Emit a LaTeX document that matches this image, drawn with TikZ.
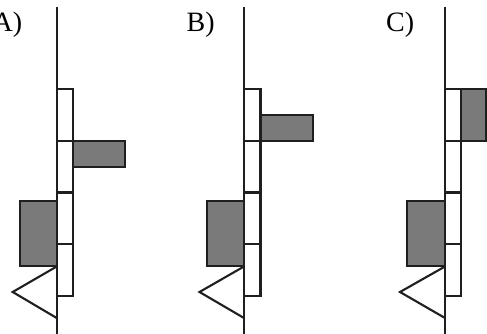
\documentclass[tikz,border=0pt]{standalone}
\usepackage{fontspec}
\setmainfont{Liberation Serif}
\begin{document}
\begin{tikzpicture}[x=1pt,y=-1pt,
  ln/.style={draw=black!88, line width=2.1pt},
  cell/.style={draw=black!88, line width=2.1pt, fill=white},
  gbox/.style={draw=black!88, line width=2.1pt, fill=black!52},
  tri/.style={draw=black!88, line width=2.1pt, line join=miter},
  lbl/.style={font=\fontsize{28}{30}\selectfont, inner sep=0pt, anchor=base west}]
\useasboundingbox (0,0) rectangle (487,334);
% Panel A
\draw[ln] (56.7,7) -- (56.7,334);
\draw[gbox] (73,141) rectangle (125,167);
\draw[gbox] (20,200.7) rectangle (56.7,266);
\foreach \a/\b in {89/141,141/192.5,192.5/244,244/296}
  \draw[cell] (56.7,\a) rectangle (73,\b);
\draw[tri] (56.7,266.5) -- (12.7,292) -- (56.7,318);
\node[lbl] (la) at (-7.5,32) {A)};
% Panel B
\draw[ln] (244,7) -- (244,334);
\draw[gbox] (260.5,115) rectangle (313,141);
\draw[gbox] (206.7,200.7) rectangle (244,266);
\foreach \a/\b in {89/141,141/192.5,192.5/244,244/296}
  \draw[cell] (244,\a) rectangle (260.5,\b);
\draw[tri] (244,266.5) -- (199.5,292) -- (244,318);
\node[lbl] (lb) at (186.5,32) {B)};
% Panel C
\draw[ln] (445,7) -- (445,334);
\draw[gbox] (461,89) rectangle (486.3,141);
\draw[gbox] (407.3,200.7) rectangle (445,266);
\foreach \a/\b in {89/141,141/192.5,192.5/244,244/296}
  \draw[cell] (445,\a) rectangle (461,\b);
\draw[tri] (445,266.5) -- (400,292) -- (445,318);
\node[lbl] (lc) at (386,32) {C)};
\end{tikzpicture}
\end{document}
